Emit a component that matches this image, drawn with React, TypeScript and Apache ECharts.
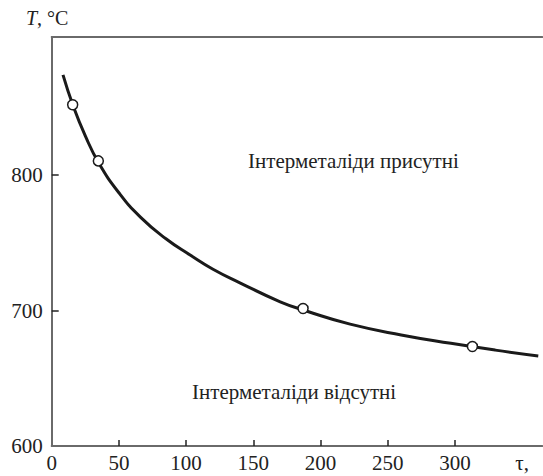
import React, { useEffect, useRef } from "react";
import * as echarts from "echarts";

// Experimental points (tau, T)
const pointTau = [15.6, 34.7, 187, 313];
const pointT = [852, 810.5, 701.5, 673.5];

// Fitted curve
const curveTau = [8.4, 16, 25, 35, 50, 66, 85, 103, 120, 140, 170, 190, 222, 260, 297, 330, 362];
const curveT = [874, 851, 829, 809, 787, 769, 753, 741, 730.5, 720.5, 706.5, 699.5, 690, 682, 675.8, 670.8, 666.5];

const xLabelValues = [0, 50, 100, 150, 200, 250, 300, 350];
const xTickValues = [50, 100, 150, 200, 250, 300];
const yLabelValues = [600, 700, 800];
const yTickValues = [700, 800];

const labelPresent = "Інтерметаліди присутні";
const labelAbsent = "Інтерметаліди відсутні";

const FONT = "Liberation Serif";

export default function App() {
  const ref = useRef<HTMLDivElement>(null);
  useEffect(() => {
    document.body.style.margin = "0";
    const chart = echarts.init(ref.current!, undefined, { renderer: "svg" });
    const axisColor = "#6a6a6a";
    chart.setOption({
      animation: false,
      backgroundColor: "#ffffff",
      textStyle: { fontFamily: FONT },
      grid: { left: 51.7, top: 37, right: 0.7, bottom: 30, containLabel: false },
      xAxis: [
        {
          type: "value",
          min: 0,
          max: 365,
          interval: 50,
          axisLine: { show: true, lineStyle: { color: axisColor, width: 2 } },
          axisTick: {
            show: true,
            inside: true,
            length: 6,
            customValues: xTickValues,
            lineStyle: { color: "#222", width: 1.5 },
          },
          axisLabel: {
            customValues: xLabelValues,
            formatter: (v: number) => (v === 350 ? "τ," : String(v)),
            fontFamily: FONT,
            fontSize: 21,
            color: "#222",
            margin: 6,
          },
          splitLine: { show: false },
        },
        {
          type: "value",
          position: "top",
          min: 0,
          max: 365,
          axisLine: { show: true, onZero: false, lineStyle: { color: axisColor, width: 2 } },
          axisTick: { show: false },
          axisLabel: { show: false },
          splitLine: { show: false },
        },
      ],
      yAxis: {
        type: "value",
        min: 600,
        max: 902,
        interval: 100,
        axisLine: { show: true, lineStyle: { color: axisColor, width: 2 } },
        axisTick: {
          show: true,
          inside: true,
          length: 7,
          customValues: yTickValues,
          lineStyle: { color: "#222", width: 1.5 },
        },
        axisLabel: {
          customValues: yLabelValues,
          fontFamily: FONT,
          fontSize: 21,
          color: "#222",
          margin: 9,
        },
        splitLine: { show: false },
      },
      graphic: [
        {
          type: "text",
          left: 26,
          top: 8,
          style: {
            text: "{i|T}{n|, °C}",
            fill: "#222",
            rich: {
              i: { fontStyle: "italic", fontFamily: FONT, fontSize: 20, fill: "#222" },
              n: { fontFamily: FONT, fontSize: 20, fill: "#222" },
            },
          },
        },
        {
          type: "text",
          left: 248,
          top: 150,
          style: { text: labelPresent, fontFamily: FONT, fontSize: 21, fill: "#222" },
        },
        {
          type: "text",
          left: 192,
          top: 381,
          style: { text: labelAbsent, fontFamily: FONT, fontSize: 21, fill: "#222" },
        },
      ],
      series: [
        {
          type: "line",
          data: curveTau.map((t, i) => [t, curveT[i]]),
          smooth: 0.5,
          showSymbol: false,
          lineStyle: { color: "#1a1a1a", width: 3 },
          z: 2,
        },
        {
          type: "scatter",
          data: pointTau.map((t, i) => [t, pointT[i]]),
          symbol: "circle",
          symbolSize: 10,
          itemStyle: { color: "#ffffff", opacity: 1, borderColor: "#1a1a1a", borderWidth: 1.5 },
          z: 3,
        },
      ],
    });
    return () => chart.dispose();
  }, []);
  return <div ref={ref} style={{ position: "absolute", left: 0, top: 0, width: 543, height: 476 }} />;
}
